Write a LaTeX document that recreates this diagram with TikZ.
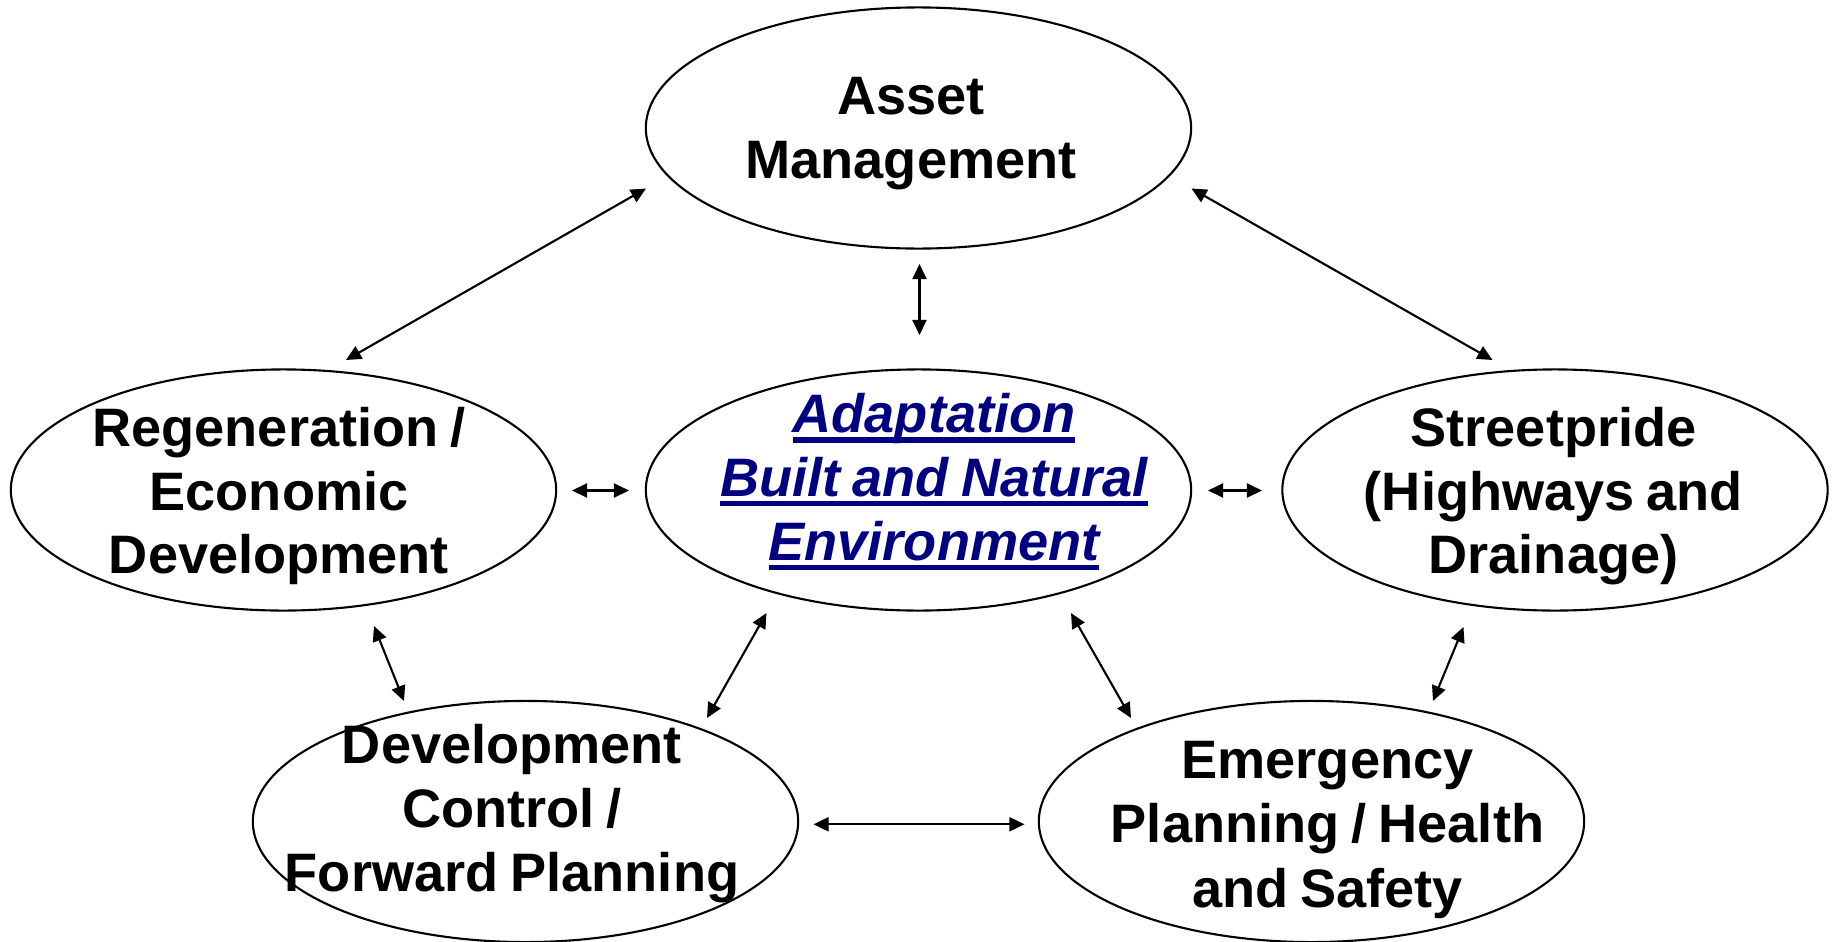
\documentclass[tikz,border=0pt]{standalone}
\usepackage{fontspec}
\setmainfont{Liberation Sans}[WordSpace=0.8]
\usetikzlibrary{shapes.geometric,arrows.meta}
\definecolor{adaptblue}{RGB}{0,0,128}
% thick underline spanning the full advance width of the text
\newsavebox\ulbox
\newcommand\ulbar[1]{\sbox\ulbox{#1}\rlap{\rule[-2.9pt]{\wd\ulbox}{1.55pt}}\usebox\ulbox}
\begin{document}
\begin{tikzpicture}[x=0.01cm,y=-0.01cm,
  bubble/.style={draw,ellipse,line width=0.6pt,minimum width=5.45cm,minimum height=2.41cm,inner sep=0pt},
  word/.style={anchor=base,inner sep=0pt,font=\fontsize{15.4pt}{18pt}\selectfont\bfseries},
  aword/.style={anchor=base,inner sep=0pt,text=adaptblue,font=\fontsize{15.4pt}{18pt}\selectfont\bfseries\itshape},
  link/.style={{Triangle[length=4.3pt,width=4pt]}-{Triangle[length=4.3pt,width=4pt]},line width=0.6pt}]
\useasboundingbox (0,0) rectangle (1832,942);
\fill[white] (0,0) rectangle (1832,942);

% ellipses
\node[bubble] (asset)  at (918.5,128)   {};
\node[bubble] (adapt)  at (918.5,490)   {};
\node[bubble] (regen)  at (283.5,490)   {};
\node[bubble] (street) at (1555,490)    {};
\node[bubble] (devctl) at (525.5,821.5) {};
\node[bubble] (emerg)  at (1311.5,821.5){};

% labels, one node per line
\node[word] (asset-1) at (911,114.3) {Asset};
\node[word] (asset-2) at (911,178.3) {Management};

\node[aword] (adapt-1) at (934,432.3) {\ulbar{Adaptation}};
\node[aword] (adapt-2) at (934,496)   {\ulbar{Built and Natural}};
\node[aword] (adapt-3) at (934,560)   {\ulbar{Environment}};

\node[word] (regen-1) at (279,446.7) {Regeneration /};
\node[word] (regen-2) at (279,510.3) {Economic};
\node[word] (regen-3) at (279,573.7) {Development};

\node[word] (street-1) at (1553.5,446.7) {Streetpride};
\node[word] (street-2) at (1553.5,510)   {(Highways and};
\node[word] (street-3) at (1553.5,573.7) {Drainage)};

\node[word] (devctl-1) at (512,763.7) {Development};
\node[word] (devctl-2) at (512,827.7) {Control /};
\node[word] (devctl-3) at (512,891.7) {Forward Planning};

\node[word] (emerg-1) at (1327.5,778.3) {Emergency};
\node[word] (emerg-2) at (1327.5,842.7) {Planning / Health};
\node[word] (emerg-3) at (1327.5,907)   {and Safety};

% free ends of the two-way connectors
\coordinate (asset-regen-a)  at (646,188.5);
\coordinate (asset-regen-b)  at (346,360);
\coordinate (asset-adapt-a)  at (919.5,264);
\coordinate (asset-adapt-b)  at (919.5,335);
\coordinate (asset-street-a) at (1191.5,188.5);
\coordinate (asset-street-b) at (1492.5,360);
\coordinate (regen-adapt-a)  at (572,490.5);
\coordinate (regen-adapt-b)  at (629,490.5);
\coordinate (adapt-street-a) at (1208,490.5);
\coordinate (adapt-street-b) at (1262,490.5);
\coordinate (regen-devctl-a) at (374,626);
\coordinate (regen-devctl-b) at (404,701);
\coordinate (adapt-devctl-a) at (766.5,613);
\coordinate (adapt-devctl-b) at (707,718);
\coordinate (devctl-emerg-a) at (813.5,824.3);
\coordinate (devctl-emerg-b) at (1024.5,824.3);
\coordinate (adapt-emerg-a)  at (1071,613);
\coordinate (adapt-emerg-b)  at (1131,718);
\coordinate (street-emerg-a) at (1463.5,627);
\coordinate (street-emerg-b) at (1433,701);

\draw[link] (asset-regen-a)  -- (asset-regen-b);
\draw[link] (asset-adapt-a)  -- (asset-adapt-b);
\draw[link] (asset-street-a) -- (asset-street-b);
\draw[link] (regen-adapt-a)  -- (regen-adapt-b);
\draw[link] (adapt-street-a) -- (adapt-street-b);
\draw[link] (regen-devctl-a) -- (regen-devctl-b);
\draw[link] (adapt-devctl-a) -- (adapt-devctl-b);
\draw[link] (devctl-emerg-a) -- (devctl-emerg-b);
\draw[link] (adapt-emerg-a)  -- (adapt-emerg-b);
\draw[link] (street-emerg-a) -- (street-emerg-b);
\end{tikzpicture}
\end{document}
